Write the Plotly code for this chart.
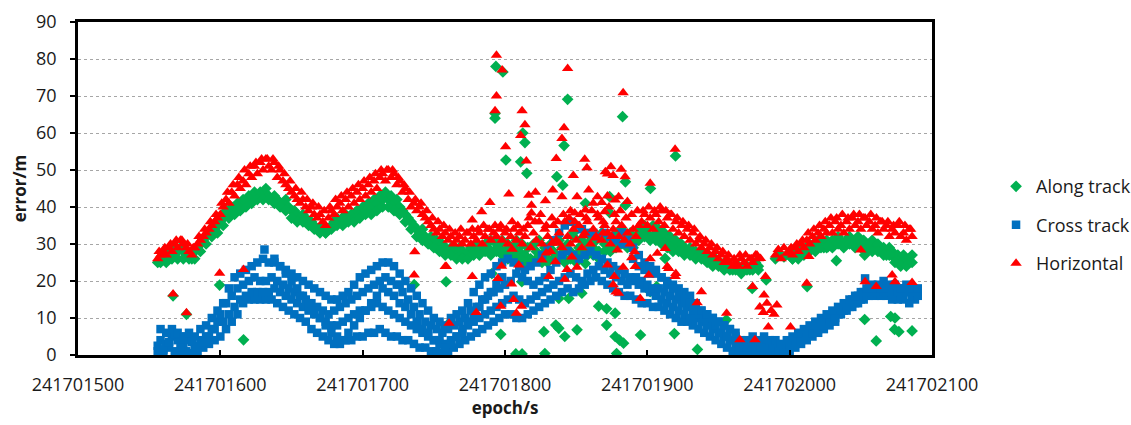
import plotly.graph_objects as go

EPOCH0 = 241701500

# ---------------- Horizontal (red) main band, offsets 56..478 step 2 and 500..586 step 2
horiz_band1 = [
    26, 27, 28, 27, 29, 28, 30, 29, 31, 30,
    29, 28, 27, 29, 30, 31, 32, 33, 34, 35,
    36, 37, 38, 40, 42, 41, 44, 43, 46, 45,
    47, 46, 49, 48, 51, 49, 52, 50, 53, 51,
    50, 52, 48, 50, 47, 46, 45, 44, 43, 42,
    41, 42, 40, 39, 40, 38, 37, 38, 36, 35,
    37, 39, 38, 40, 41, 39, 42, 40, 43, 41,
    44, 42, 45, 43, 46, 44, 47, 45, 48, 49,
    47, 50, 48, 49, 46, 47, 44, 45, 42, 40,
    41, 39, 40, 38, 37, 36, 35, 34, 33, 34,
    32, 33, 31, 32, 30, 31, 32, 30, 31, 33,
    30, 32, 31, 33, 30, 32, 34, 31, 33, 32,
    34, 31, 33, 30, 32, 34, 31, 33, 30, 32,
    35, 29, 33, 31, 36, 30, 34, 32, 28, 35,
    31, 33, 29, 36, 32, 30, 34, 31, 35, 29,
    33, 36, 30, 34, 32, 37, 31, 35, 33, 30,
    34, 36, 32, 35, 31, 33, 30, 34, 32, 35,
    36, 38, 35, 37, 34, 38, 36, 39, 35, 37,
    38, 34, 36, 33, 35, 32, 34, 31, 33, 30,
    31, 29, 30, 28, 29, 27, 28, 26, 27, 25,
    26, 25, 24, 25, 24, 26, 25, 24, 26, 25,
    27, 26,
]
horiz_band2 = [
    28, 27, 29, 28, 30, 29, 31, 30, 32, 31,
    33, 32, 34, 33, 35, 33, 36, 34, 35, 33,
    36, 34, 37, 35, 36, 34, 37, 35, 36, 34,
    35, 33, 36, 34, 35, 32, 34, 33, 35, 32,
    33, 31, 34, 32,
]
# upper edge of the Horizontal band, offsets 57..477 step 4 and 501..585 step 4
horiz_upper1 = [
    28, 29, 30, 31, 31, 30, 29, 32, 34, 36,
    38, 41, 44, 46, 48, 50, 51, 52, 53, 53,
    53, 51, 49, 47, 45, 44, 42, 41, 40, 39,
    40, 42, 43, 44, 45, 46, 47, 48, 49, 50,
    50, 50, 48, 46, 44, 42, 41, 39, 37, 36,
    35, 34, 33, 34, 33, 34, 34, 35, 34, 35,
    35, 34, 36, 35, 34, 37, 36, 38, 35, 37,
    36, 38, 37, 36, 38, 37, 39, 38, 36, 40,
    38, 39, 37, 38, 39, 39, 40, 39, 40, 39,
    38, 37, 36, 35, 34, 32, 31, 30, 29, 28,
    27, 26, 27, 27, 26, 27,
]
horiz_upper2 = [
    29, 30, 31, 33, 34, 35, 36, 37, 37, 38,
    37, 38, 38, 37, 38, 37, 36, 36, 35, 36,
    35, 34,
]
# scattered Horizontal points (offset s, error m)
horiz_out_t = [66.8, 76.2, 99.5, 116.3, 236.6, 236.2, 258, 260.7,
               294, 298, 294, 293, 312, 314, 311, 344, 341.5, 340, 383, 419.5, 300.4,
               315, 336, 348, 356, 357.6, 358.8, 374.4, 372, 381.6, 384.4, 379.8, 402,
               289.4, 302.7, 316.7, 321.4, 328.4, 333.6, 340, 350.6, 365, 368, 377.4,
               283.6, 277, 318.6, 318.6, 346, 349, 356.5, 362, 370, 372, 386, 376, 370.5,
               258.8, 277, 279.8, 297, 295, 297.6, 304.6, 306, 308, 311.6, 309.7, 305,
               330.8, 342, 343.6, 326, 329, 333, 338, 335.4, 347, 350.6, 354.8, 363.5,
               369, 375, 376.8, 379.8, 383, 389, 395, 391.5, 401, 402, 414, 419.5,
               372, 379, 376, 378, 391, 407, 412.5, 415, 420, 438, 435, 455.7, 474,
               465, 475.6, 483, 482, 479, 481.5, 484, 487, 489, 491, 485, 500.6, 479.5,
               512, 513.5, 553, 560.8, 550, 572, 574, 586, 490, 492, 494, 496, 498]
horiz_out_v = [16.5, 11.4, 22.1, 23.1, 27.9, 21.6, 23.9, 8.6,
               81, 77, 70, 66, 66, 62.2, 59.3, 77.4, 61.4, 58.5, 70.9, 55.6, 56.3,
               52.4, 53.1, 48.5, 52.9, 50.6, 44.6, 50.9, 48.9, 50.2, 48.2, 42.8, 46.4,
               41.2, 43.5, 43.2, 44, 41.7, 44.6, 42.8, 42.8, 42.8, 41.2, 41.9,
               38.7, 36.5, 40.5, 38.4, 39, 38.4, 39.2, 41, 38.7, 43, 41.5, 48.5, 49.5,
               23.9, 21.2, 11.5, 13.2, 20.7, 24, 19.2, 15, 11.3, 13.2, 24.3, 28.6,
               21.2, 20.5, 23.1, 25.7, 27.6, 30.2, 30.2, 25.2, 26.5, 23.7, 32.2, 31.6,
               33, 32, 21.2, 16.7, 23.7, 26.3, 15.3, 23.9, 21.6, 26, 23.9, 21.2,
               24.3, 28.4, 19, 17, 27.9, 27.5, 28.8, 23.4, 22, 17.1, 14.1, 11.3, 18.5,
               4.1, 4.1, 21.2, 16.2, 13, 11.5, 14, 12, 11, 13.5, 7.6, 7.6, 26.1,
               19.4, 26.6, 19.8, 18.5, 28.4, 21.6, 19.8, 19.6, 27, 28.5, 26, 29, 27.5]

# ---------------- Along track (green) main band
along_band1 = [
    25, 26, 27, 26, 28, 27, 29, 28, 29, 28,
    27, 27, 26, 28, 29, 30, 31, 32, 33, 34,
    34, 35, 36, 37, 39, 38, 40, 40, 41, 41,
    42, 42, 43, 43, 44, 43, 44, 43, 45, 43,
    42, 43, 42, 41, 41, 42, 40, 39, 39, 38,
    37, 38, 37, 36, 36, 35, 34, 34, 35, 33,
    34, 35, 36, 37, 36, 37, 38, 37, 38, 37,
    39, 38, 40, 39, 41, 40, 42, 41, 43, 42,
    44, 42, 43, 41, 42, 40, 39, 38, 37, 36,
    35, 34, 33, 34, 32, 31, 32, 30, 31, 29,
    30, 29, 28, 29, 28, 27, 29, 28, 27, 28,
    29, 28, 30, 29, 28, 30, 29, 31, 28, 30,
    29, 31, 28, 30, 27, 29, 31, 28, 30, 27,
    29, 26, 30, 28, 31, 27, 29, 26, 30, 28,
    27, 31, 29, 26, 30, 28, 32, 27, 29, 31,
    28, 30, 32, 29, 31, 28, 33, 30, 32, 29,
    31, 33, 30, 34, 32, 31, 33, 30, 32, 34,
    33, 35, 34, 32, 35, 33, 34, 32, 33, 31,
    32, 30, 31, 29, 30, 29, 28, 29, 27, 28,
    27, 28, 26, 27, 26, 25, 26, 25, 24, 25,
    24, 24, 23, 24, 24, 23, 24, 24, 23, 24,
    25, 24,
]
along_band2 = [
    27, 26, 28, 27, 29, 28, 29, 30, 29, 30,
    31, 30, 29, 31, 30, 31, 30, 32, 31, 30,
    31, 32, 30, 31, 32, 30, 31, 29, 30, 31,
    29, 30, 28, 29, 27, 29, 28, 26, 27, 25,
    27, 26, 25, 27,
]
# lower edge of the Along-track band, offsets 58..478 step 4 and 502..586 step 4
along_lower1 = [
    25, 25, 26, 26, 26, 26, 26, 28, 30, 32,
    33, 35, 37, 38, 39, 40, 41, 42, 42, 42,
    41, 40, 39, 37, 36, 36, 35, 34, 33, 33,
    34, 35, 35, 36, 36, 37, 38, 38, 39, 40,
    40, 39, 38, 36, 34, 32, 31, 30, 29, 28,
    27, 27, 26, 26, 26, 27, 27, 28, 27, 28,
    27, 26, 27, 26, 25, 25, 26, 25, 25, 26,
    26, 25, 26, 25, 27, 27, 27, 26, 28, 28,
    29, 30, 29, 29, 31, 32, 31, 31, 30, 29,
    28, 28, 27, 27, 26, 26, 25, 24, 24, 23,
    23, 23, 22, 23, 23, 23,
]
along_lower2 = [
    26, 26, 27, 28, 28, 29, 29, 29, 30, 29,
    30, 29, 29, 28, 28, 28, 27, 27, 25, 24,
    24, 25,
]
along_out_t = [66.8, 76.2, 99.5, 116.3, 236.2, 258.6, 260.7,
               293.6, 298.5, 293, 293, 312.5, 314, 344, 341.5, 382.6, 419.8, 300.6,
               311, 315.3, 336.4, 340.6, 384.6, 384.6, 402.2, 373.5, 373.5, 356.5,
               290.8, 311.8, 337.8, 344.8, 354, 356.5, 348.3,
               297, 307.6, 312, 328, 327.3, 335.7, 337.8, 342, 350.6,
               365.8, 371.4, 377.4, 371.4, 377.4, 380.5, 383.3, 378.4, 395.2,
               419, 435.2, 455.5, 402, 406.6, 412.5, 473.7, 483.5, 512.3,
               532.8, 552.7, 560.8, 571, 574, 573.7, 576.7, 586, 552.7, 527,
               490, 493, 496]
along_out_v = [16, 11, 18.9, 4.1, 19, 19.8, 8.6,
               78, 76.5, 65.3, 64, 60, 57.4, 69.1, 56.6, 64.4, 53.8, 52.7,
               52.2, 49.1, 48.2, 45.9, 46.8, 40.5, 45, 42.8, 38.5, 41,
               22, 19.8, 15.3, 15.3, 16.7, 24.7, 33.1,
               5.6, 0.3, 0.3, 0.4, 6.3, 8.1, 7.2, 5, 6.8,
               13.2, 12.5, 11.3, 8.1, 5, 4, 3.2, 0.4, 5.4,
               5.8, 1.5, 9.5, 17.1, 18.5, 26.1, 18, 20.3, 18.5,
               25.5, 9.6, 3.8, 10.4, 10, 6.9, 6.3, 6.5, 27, 29.3,
               26, 27, 26.5]

# ---------------- Cross track (blue): interleaved strands, step 4
cross_a = [
    1, 0.5, 2, 1, 0.5, 1, 0.5, 1, 2, 3,
    4, 5, 7, 9, 11, 14, 15, 15, 15, 15,
    15, 14, 13, 12, 11, 10, 9, 7, 6, 5,
    4, 3, 3, 4, 4, 5, 5, 6, 6, 7,
    6, 5, 5, 4, 4, 3, 2, 2, 1, 1,
    0.5, 1, 2, 3, 4, 5, 6, 7, 8, 9,
    10, 11, 11, 10, 10, 11, 12, 13, 14, 15,
    16, 17, 18, 17, 18, 19, 20, 21, 20, 19,
    18, 17, 16, 16, 15, 14, 14, 13, 13, 12,
    11, 10, 9, 9, 8, 7, 6, 5, 4, 3,
    2, 1, 0.5, 0.5, 1, 0.5, 1, 0.5, 1, 0.5,
    1, 1, 2, 3, 4, 5, 6, 7, 8, 9,
    11, 12, 13, 14, 15, 16, 16, 16, 16, 15,
    15, 15, 14, 15,
]
cross_b = [
    4, 3, 5, 4, 3, 4, 2, 4, 5, 7,
    9, 9, 11, 13, 15, 16, 17, 17, 17, 17,
    18, 17, 16, 15, 14, 13, 12, 11, 10, 9,
    8, 8, 9, 10, 11, 12, 12, 13, 14, 13,
    12, 11, 10, 9, 8, 7, 6, 5, 4, 4,
    3, 4, 5, 6, 8, 9, 10, 11, 12, 13,
    14, 15, 16, 15, 14, 15, 16, 17, 18, 19,
    20, 21, 22, 21, 20, 22, 23, 24, 23, 22,
    21, 20, 19, 20, 19, 18, 17, 16, 15, 14,
    13, 12, 11, 10, 10, 9, 8, 7, 6, 5,
    4, 3, 2, 2, 3, 2, 3, 2, 3, 2,
    2, 3, 4, 5, 6, 7, 8, 9, 10, 11,
    12, 13, 14, 15, 16, 17, 17, 17, 17, 16,
    16, 17, 16, 16,
]
cross_c = [
    2.5, 1.5, 3.5, 5.5, 2, 5, 3.5, 2.5, 3.5, 5,
    7, 11, 14, 16, 18, 19, 20, 21, 20, 20,
    21, 20, 19, 18, 17, 16, 15, 14, 13, 12,
    11, 12, 13, 14, 15, 16, 17, 18, 19, 20,
    21, 20, 19, 17, 15, 13, 11, 9, 8, 7,
    6, 7, 8, 9, 10, 12, 13, 15, 16, 17,
    18, 19, 20, 22, 21, 20, 19, 20, 21, 23,
    25, 27, 28, 27, 26, 27, 28, 27, 26, 25,
    24, 23, 22, 21, 21, 20, 19, 18, 18, 17,
    16, 15, 14, 13, 12, 11, 10, 9, 8, 6,
    5, 4, 3, 3, 2, 1, 2, 1, 2, 1,
    0.5, 2, 3, 4, 5, 6, 7, 8, 9, 10,
    12, 13, 15, 16, 17, 18, 18, 18, 18, 17,
    17, 18, 17, 17,
]
cross_d = [
    7, 6, 7, 6, 5, 6, 5, 7, 8, 10,
    12, 14, 18, 21, 22, 23, 24, 25, 26, 25,
    25, 24, 23, 22, 21, 20, 19, 18, 17, 16,
    15, 15, 16, 17, 19, 21, 22, 23, 24, 25,
    25, 24, 22, 20, 18, 16, 14, 12, 10, 9,
    8, 10, 11, 12, 14, 17, 19, 21, 22, 24,
    25, 26, 25, 24, 23, 24, 25, 27, 29, 31,
    33, 35, 36, 35, 34, 33, 33, 32, 33, 32,
    31, 30, 30, 26, 24, 23, 22, 22, 21, 20,
    19, 18, 17, 16, 14, 12, 11, 10, 9, 8,
    7, 5, 4, 4, 5, 4, 5, 4, 4, 3,
    4, 5, 6, 7, 8, 9, 10, 11, 12, 13,
    14, 15, 16, 17, 18, 19, 19, 20, 19, 19,
    18, 19, 18, 18,
]
cross_starts = [56, 58, 56, 58]
# crossing strand segments: offsets 138..298 step 4 and 382..462 step 4
cross_e1 = [
    26, 24, 22, 20, 18, 16, 14, 12, 10, 8,
    6, 5, 4, 6, 8, 10, 12, 14, 16, 18,
    17, 16, 14, 13, 11, 9, 7, 6, 4, 3,
    2, 3, 5, 7, 9, 11, 13, 15, 17, 19,
    21,
]
cross_e2 = [
    33, 31, 29, 27, 25, 24, 23, 21, 19, 18,
    16, 15, 14, 13, 12, 11, 10, 9, 8, 7,
    6,
]
cross_out_t = [131, 553, 226]
cross_out_v = [28.5, 20.7, 19]


def band(start, step, values):
    xs = [EPOCH0 + start + step * i for i in range(len(values))]
    return xs, list(values)


along_x, along_y = [], []
for start, step, vals in ((56, 2, along_band1), (500, 2, along_band2),
                          (58, 4, along_lower1), (502, 4, along_lower2)):
    sx, sy = band(start, step, vals)
    along_x += sx
    along_y += sy
along_x += [EPOCH0 + t for t in along_out_t]
along_y += along_out_v

horiz_x, horiz_y = [], []
for start, step, vals in ((56, 2, horiz_band1), (500, 2, horiz_band2),
                          (57, 4, horiz_upper1), (501, 4, horiz_upper2)):
    sx, sy = band(start, step, vals)
    horiz_x += sx
    horiz_y += sy
horiz_x += [EPOCH0 + t for t in horiz_out_t]
horiz_y += horiz_out_v

cross_x, cross_y = [], []
for start, strand in zip(cross_starts, (cross_a, cross_b, cross_c, cross_d)):
    sx, sy = band(start, 4, strand)
    cross_x += sx
    cross_y += sy
for start, strand in ((138, cross_e1), (382, cross_e2)):
    sx, sy = band(start, 4, strand)
    cross_x += sx
    cross_y += sy
cross_x += [EPOCH0 + t for t in cross_out_t]
cross_y += cross_out_v

GREEN = "#00B050"
BLUE = "#0070C0"
RED = "#FF0000"
FONT = "Open Sans"
TXT = "#1a1a1a"

fig = go.Figure()
fig.add_trace(go.Scatter(x=along_x, y=along_y, mode="markers", name="Along track",
                         legendgroup="a",
                         marker=dict(symbol="diamond", size=9, color=GREEN, line=dict(width=0))))
fig.add_trace(go.Scatter(x=cross_x, y=cross_y, mode="markers", name="Cross track",
                         legendgroup="b",
                         marker=dict(symbol="square", size=8.5, color=BLUE, line=dict(width=0))))
fig.add_trace(go.Scatter(x=horiz_x, y=horiz_y, mode="markers", name="Horizontal",
                         legendgroup="c",
                         marker=dict(symbol="triangle-up", size=10, color=RED, line=dict(width=0))))

fig.update_layout(
    width=1131, height=425,
    margin=dict(l=78, r=199, t=22, b=70, autoexpand=False),
    paper_bgcolor="white", plot_bgcolor="white",
    font=dict(family=FONT, size=18, color=TXT),
    showlegend=True,
    legend=dict(x=1.075, xanchor="left", y=0.39, yanchor="middle",
                font=dict(family=FONT, size=18, color=TXT),
                tracegroupgap=12, itemwidth=30, bgcolor="rgba(0,0,0,0)"),
    xaxis=dict(
        range=[241701500, 241702100], dtick=100, tick0=241701500, tickformat="d",
        showgrid=False, zeroline=False,
        showline=True, linecolor="black", linewidth=2.5, mirror=True,
        ticks="inside", ticklen=5, tickwidth=2, tickcolor="black",
        ticklabelstandoff=12,
        tickfont=dict(family=FONT, size=18, color=TXT),
        title=dict(text="<b>epoch/s</b>", standoff=6,
                   font=dict(family=FONT, size=17, color=TXT)),
    ),
    yaxis=dict(
        range=[0, 90], dtick=10, tick0=0,
        showgrid=True, gridcolor="#A6A6A6", gridwidth=1, griddash="3px,3px",
        zeroline=False,
        showline=True, linecolor="black", linewidth=2.5, mirror=True,
        ticks="outside", ticklen=5, tickwidth=2, tickcolor="black",
        ticklabelstandoff=10,
        tickfont=dict(family=FONT, size=18, color=TXT),
        title=dict(text="<b>error/m</b>", standoff=6,
                   font=dict(family=FONT, size=17, color=TXT)),
    ),
)

fig.write_html("out.html")
